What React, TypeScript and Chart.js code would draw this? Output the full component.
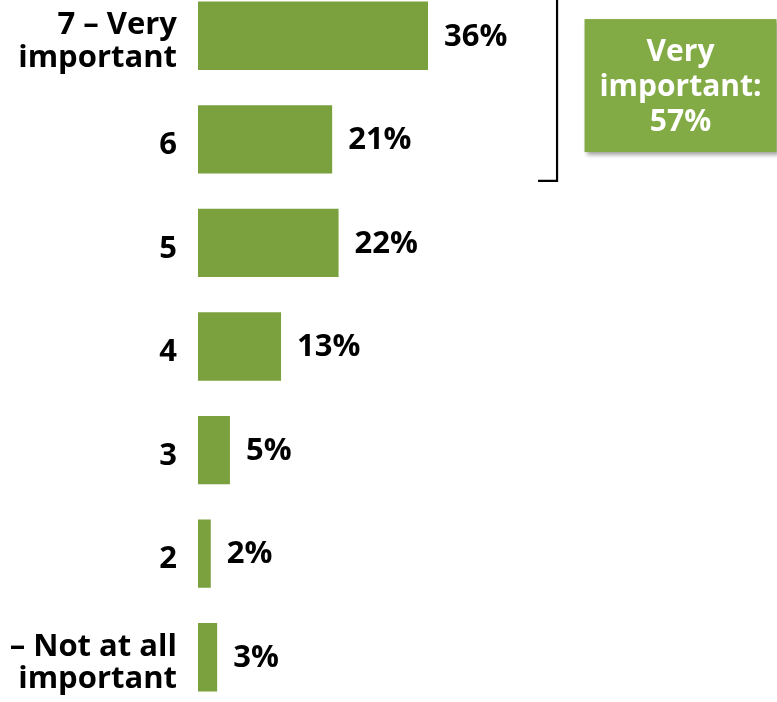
import React, { useEffect, useRef } from "react";
import { Chart, registerables } from "chart.js";

Chart.register(...registerables);

const categories: (string | string[])[] = [
  ["7 – Very", "important"],
  "6",
  "5",
  "4",
  "3",
  "2",
  ["1 – Not at all", "important"],
];
const values: number[] = [36, 21, 22, 13, 5, 2, 3];
const calloutLines: string[] = ["Very", "important:", "57%"];
const bracketSpan: number[] = [0, 1];

const BAR_COLOR = "#7AA13E";
const BOX_COLOR = "#83AB45";
const FONT = "'Open Sans', 'DejaVu Sans', sans-serif";

const overlayPlugin = {
  id: "overlay",
  afterDatasetsDraw(chart: any) {
    const { ctx } = chart;
    const xs = chart.scales.x;
    const ys = chart.scales.y;
    const meta = chart.getDatasetMeta(0);
    ctx.save();
    // value labels
    ctx.font = `bold 31px ${FONT}`;
    ctx.fillStyle = "#000";
    ctx.textAlign = "left";
    ctx.textBaseline = "middle";
    meta.data.forEach((bar: any, i: number) => {
      ctx.fillText(`${values[i]}%`, bar.x + 16, bar.y + 1);
    });
    // bracket
    const step = ys.getPixelForValue(1) - ys.getPixelForValue(0);
    const bx = xs.getPixelForValue(56.2);
    const yTop = ys.getPixelForValue(bracketSpan[0]) - 0.4 * step;
    const yBot = ys.getPixelForValue(bracketSpan[1]) + 0.4 * step;
    ctx.strokeStyle = "#000";
    ctx.lineWidth = 2.2;
    ctx.beginPath();
    ctx.moveTo(bx - 19, yTop);
    ctx.lineTo(bx, yTop);
    ctx.lineTo(bx, yBot);
    ctx.lineTo(bx - 19, yBot);
    ctx.stroke();
    // callout box
    const boxLeft = xs.getPixelForValue(60.5);
    const boxW = 192;
    const boxH = 133;
    const midY = (ys.getPixelForValue(bracketSpan[0]) + ys.getPixelForValue(bracketSpan[1])) / 2 - 2;
    const boxTop = midY - boxH / 2;
    ctx.save();
    ctx.shadowColor = "rgba(0,0,0,0.35)";
    ctx.shadowBlur = 4;
    ctx.shadowOffsetX = 2;
    ctx.shadowOffsetY = 3;
    ctx.fillStyle = BOX_COLOR;
    ctx.fillRect(boxLeft, boxTop, boxW, boxH);
    ctx.restore();
    ctx.fillStyle = "#fff";
    ctx.textAlign = "center";
    ctx.textBaseline = "middle";
    ctx.font = `bold 30px ${FONT}`;
    const lh = 35;
    calloutLines.forEach((t, i) => {
      ctx.fillText(t, boxLeft + boxW / 2, midY + (i - 1) * lh + 2);
    });
    ctx.restore();
  },
};

export default function App() {
  const ref = useRef<HTMLCanvasElement | null>(null);
  useEffect(() => {
    if (!ref.current) return;
    const chart = new Chart(ref.current, {
      type: "bar",
      data: {
        labels: categories,
        datasets: [
          {
            data: values,
            backgroundColor: BAR_COLOR,
            borderWidth: 0,
            categoryPercentage: 1,
            barPercentage: 0.66,
          },
        ],
      },
      options: {
        indexAxis: "y",
        animation: false,
        responsive: false,
        devicePixelRatio: 1,
        layout: { padding: { left: 0, right: 4, top: 0, bottom: 0 } },
        plugins: {
          legend: { display: false },
          tooltip: { enabled: false },
        },
        scales: {
          x: {
            display: false,
            min: 0,
            max: 90,
          },
          y: {
            grid: { display: false, drawTicks: false },
            border: { display: false },
            afterFit: (scale: any) => {
              scale.width = 198;
              scale.paddingTop = 0;
              scale.paddingBottom = 0;
            },
            ticks: {
              color: "#000",
              padding: 21,
              labelOffset: 6,
              font: { family: FONT, size: 31, weight: "bold", lineHeight: 1.04 },
            },
          },
        },
      },
      plugins: [overlayPlugin],
    });
    return () => chart.destroy();
  }, []);
  return (
    <div style={{ position: "absolute", left: 0, top: -16, width: 777, height: 725, overflow: "hidden" }}>
      <canvas ref={ref} width={777} height={725} style={{ display: "block", width: 777, height: 725 }} />
    </div>
  );
}
